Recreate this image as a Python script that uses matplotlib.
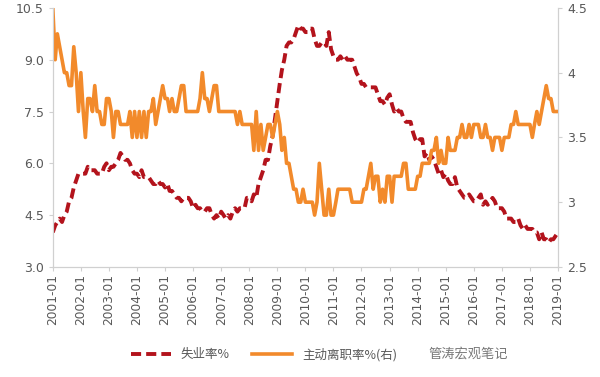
import pandas as pd
import matplotlib
matplotlib.use("Agg")
import matplotlib.pyplot as plt
import numpy as np

plt.rcParams['font.family'] = ['Noto Sans CJK SC', 'DejaVu Sans']

# monthly, 2001-01 .. 2019-01
months = pd.date_range('2001-01-01', '2019-01-01', freq='MS')

# unemployment rate % (left axis)
unemp = [
    4.0, 4.2, 4.3, 4.4, 4.3, 4.5, 4.6, 4.9, 5.0, 5.3, 5.5, 5.7,   # 2001
    5.7, 5.7, 5.7, 5.9, 5.8, 5.8, 5.8, 5.7, 5.7, 5.7, 5.9, 6.0,   # 2002
    5.8, 5.9, 5.9, 6.0, 6.1, 6.3, 6.2, 6.1, 6.1, 6.0, 5.8, 5.7,   # 2003
    5.7, 5.6, 5.8, 5.6, 5.6, 5.6, 5.5, 5.4, 5.4, 5.5, 5.4, 5.4,   # 2004
    5.3, 5.4, 5.2, 5.2, 5.1, 5.0, 5.0, 4.9, 5.0, 5.0, 5.0, 4.9,   # 2005
    4.7, 4.8, 4.7, 4.7, 4.6, 4.6, 4.7, 4.7, 4.5, 4.4, 4.5, 4.4,   # 2006
    4.6, 4.5, 4.4, 4.5, 4.4, 4.6, 4.7, 4.6, 4.7, 4.7, 4.7, 5.0,   # 2007
    5.0, 4.9, 5.1, 5.0, 5.4, 5.6, 5.8, 6.1, 6.1, 6.5, 6.8, 7.3,   # 2008
    7.8, 8.3, 8.7, 9.0, 9.4, 9.5, 9.5, 9.6, 9.8, 10.0, 9.9, 9.9,  # 2009
    9.8, 9.8, 9.9, 9.9, 9.6, 9.4, 9.4, 9.5, 9.5, 9.4, 9.8, 9.3,   # 2010
    9.1, 9.0, 9.0, 9.1, 9.0, 9.1, 9.0, 9.0, 9.0, 8.8, 8.6, 8.5,   # 2011
    8.3, 8.3, 8.2, 8.2, 8.2, 8.2, 8.2, 8.0, 7.8, 7.8, 7.7, 7.9,   # 2012
    8.0, 7.7, 7.5, 7.6, 7.5, 7.5, 7.3, 7.2, 7.2, 7.2, 6.9, 6.7,   # 2013
    6.6, 6.7, 6.7, 6.2, 6.3, 6.1, 6.2, 6.1, 5.9, 5.7, 5.8, 5.6,   # 2014
    5.7, 5.5, 5.4, 5.4, 5.6, 5.3, 5.2, 5.1, 5.0, 5.0, 5.1, 5.0,   # 2015
    4.9, 4.9, 5.0, 5.1, 4.8, 4.9, 4.8, 4.9, 5.0, 4.9, 4.7, 4.7,   # 2016
    4.7, 4.6, 4.4, 4.4, 4.4, 4.3, 4.3, 4.4, 4.2, 4.1, 4.2, 4.1,   # 2017
    4.1, 4.1, 4.0, 4.0, 3.8, 4.0, 3.8, 3.8, 3.7, 3.8, 3.8, 3.9,   # 2018
    4.0,                                                           # 2019-01
]

# quits rate % (right axis)
quits = [
    4.5, 4.1, 4.3, 4.2, 4.1, 4.0, 4.0, 3.9, 3.9, 4.2, 4.0, 3.7,   # 2001
    4.0, 3.7, 3.5, 3.8, 3.8, 3.7, 3.9, 3.7, 3.7, 3.6, 3.6, 3.8,   # 2002
    3.8, 3.7, 3.5, 3.7, 3.7, 3.6, 3.6, 3.6, 3.6, 3.7, 3.5, 3.7,   # 2003
    3.5, 3.7, 3.5, 3.7, 3.5, 3.7, 3.7, 3.8, 3.6, 3.7, 3.8, 3.9,   # 2004
    3.8, 3.8, 3.7, 3.8, 3.7, 3.7, 3.8, 3.9, 3.9, 3.7, 3.7, 3.7,   # 2005
    3.7, 3.7, 3.7, 3.8, 4.0, 3.8, 3.8, 3.7, 3.8, 3.9, 3.9, 3.7,   # 2006
    3.7, 3.7, 3.7, 3.7, 3.7, 3.7, 3.7, 3.6, 3.7, 3.6, 3.6, 3.6,   # 2007
    3.6, 3.6, 3.4, 3.7, 3.4, 3.6, 3.4, 3.5, 3.6, 3.6, 3.5, 3.6,   # 2008
    3.7, 3.6, 3.4, 3.5, 3.3, 3.3, 3.2, 3.1, 3.1, 3.0, 3.0, 3.1,   # 2009
    3.0, 3.0, 3.0, 3.0, 2.9, 3.0, 3.3, 3.1, 2.9, 2.9, 3.1, 2.9,   # 2010
    2.9, 3.0, 3.1, 3.1, 3.1, 3.1, 3.1, 3.1, 3.0, 3.0, 3.0, 3.0,   # 2011
    3.0, 3.1, 3.1, 3.2, 3.3, 3.1, 3.2, 3.2, 3.0, 3.1, 3.0, 3.2,   # 2012
    3.2, 3.0, 3.2, 3.2, 3.2, 3.2, 3.3, 3.3, 3.1, 3.1, 3.1, 3.1,   # 2013
    3.2, 3.2, 3.3, 3.3, 3.3, 3.3, 3.4, 3.4, 3.5, 3.3, 3.4, 3.3,   # 2014
    3.3, 3.5, 3.4, 3.4, 3.4, 3.5, 3.5, 3.6, 3.5, 3.5, 3.6, 3.5,   # 2015
    3.6, 3.6, 3.6, 3.5, 3.5, 3.6, 3.5, 3.5, 3.4, 3.5, 3.5, 3.5,   # 2016
    3.4, 3.5, 3.5, 3.5, 3.6, 3.6, 3.7, 3.6, 3.6, 3.6, 3.6, 3.6,   # 2017
    3.6, 3.5, 3.6, 3.7, 3.6, 3.7, 3.8, 3.9, 3.8, 3.8, 3.7, 3.7,   # 2018
    3.7,                                                           # 2019-01
]

year_ticks = pd.date_range('2001-01-01', '2019-01-01', freq='YS')
tick_labels = [d.strftime('%Y-%m') for d in year_ticks]

RED = '#B3131C'
ORANGE = '#F28A2B'
GRID_C = '#D0D0D0'
TXT = '#595959'

fig, ax1 = plt.subplots(figsize=(6, 3.77), dpi=100)
plt.subplots_adjust(left=0.088, right=0.93, top=0.979, bottom=0.292)
ax2 = ax1.twinx()

l1, = ax1.plot(months, unemp, color=RED, lw=2.8, linestyle=(0, (2.6, 1.3)), label='失业率%')
l2, = ax2.plot(months, quits, color=ORANGE, lw=2.6, label='主动离职率%(右)')

ax1.set_xlim(months[0], months[-1])
ax1.set_ylim(3.0, 10.5)
ax1.set_yticks([3.0, 4.5, 6.0, 7.5, 9.0, 10.5])
ax1.set_yticklabels(['3.0', '4.5', '6.0', '7.5', '9.0', '10.5'])
ax2.set_ylim(2.5, 4.5)
ax2.set_yticks([2.5, 3.0, 3.5, 4.0, 4.5])
ax2.set_yticklabels(['2.5', '3', '3.5', '4', '4.5'])

ax1.set_xticks(year_ticks)
ax1.set_xticklabels(tick_labels, rotation=90)

for ax in (ax1, ax2):
    ax.spines['top'].set_visible(False)
    for s in ('left', 'right', 'bottom'):
        ax.spines[s].set_color(GRID_C)
        ax.spines[s].set_linewidth(0.8)
    ax.tick_params(colors=GRID_C, labelcolor=TXT, labelsize=9, length=3, width=0.8)
    for lab in ax.get_yticklabels():
        lab.set_family('DejaVu Sans')
ax1.tick_params(axis='x', labelsize=8.8, pad=2)
for lab in ax1.get_xticklabels():
    lab.set_family('DejaVu Sans')

fig.legend(handles=[l1, l2], loc='center', bbox_to_anchor=(0.44, 0.06), ncol=2,
           frameon=False, fontsize=9, handlelength=3.2, columnspacing=1.8,
           labelcolor=TXT)
fig.text(0.78, 0.06, '管涛宏观笔记', ha='center', va='center', fontsize=9.5, color='#777777')

plt.savefig('out.png', dpi=100)
